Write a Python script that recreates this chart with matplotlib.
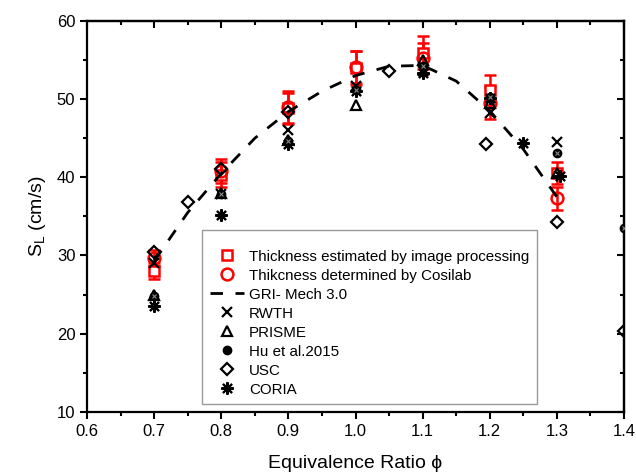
import matplotlib

matplotlib.use("Agg")
import matplotlib.pyplot as plt
from matplotlib.lines import Line2D
from matplotlib.ticker import MultipleLocator

plt.rcParams["font.family"] = ["Liberation Sans", "DejaVu Sans"]
plt.rcParams["mathtext.fontset"] = "custom"
plt.rcParams["mathtext.rm"] = "Liberation Sans"
plt.rcParams["mathtext.it"] = "Liberation Sans:italic"

# measured flame speeds (this work)
phi_exp = [0.7, 0.8, 0.9, 1.0, 1.1, 1.2, 1.3]
sl_image = [28.0, 40.3, 48.8, 54.0, 55.9, 51.2, 40.6]
sl_image_err = [1.0, 1.6, 2.0, 2.2, 2.1, 1.9, 1.4]
sl_cosilab = [29.7, 40.8, 49.0, 54.1, 55.2, 49.5, 37.3]
sl_cosilab_err = [1.0, 1.5, 2.0, 2.1, 2.0, 2.0, 1.5]

# GRI-Mech 3.0 simulation
phi_gri = [0.7, 0.75, 0.8, 0.85, 0.9, 0.95, 1.0, 1.05, 1.1, 1.15, 1.2, 1.25, 1.3]
sl_gri = [29.3, 35.5, 40.5, 45.0, 48.4, 51.0, 53.0, 54.2, 54.3, 52.3, 48.5, 43.6, 37.5]

# literature data
phi_rwth = [0.7, 0.8, 0.9, 1.0, 1.1, 1.2, 1.3]
sl_rwth = [29.0, 37.9, 46.1, 51.7, 53.6, 48.2, 44.5]
phi_prisme = [0.7, 0.8, 0.9, 1.0, 1.1, 1.2, 1.3]
sl_prisme = [24.9, 38.0, 44.8, 49.3, 55.0, 49.5, 40.6]
phi_hu = [0.7, 0.8, 0.9, 1.0, 1.1, 1.2, 1.3, 1.4]
sl_hu = [24.8, 37.8, 44.6, 51.1, 54.2, 50.3, 43.1, 33.5]
phi_usc = [0.7, 0.75, 0.8, 0.9, 1.05, 1.195, 1.3, 1.4]
sl_usc = [30.4, 36.8, 41.1, 48.3, 53.6, 44.3, 34.3, 20.4]
phi_coria = [0.7, 0.8, 0.9, 1.0, 1.1, 1.2, 1.25, 1.305]
sl_coria = [23.6, 35.2, 44.2, 51.0, 53.3, 50.1, 44.4, 40.1]

labels = [
    "Thickness estimated by image processing",
    "Thikcness determined by Cosilab",
    "GRI- Mech 3.0",
    "RWTH",
    "PRISME",
    "Hu et al.2015",
    "USC",
    "CORIA",
]

fig = plt.figure(figsize=(6.36, 4.74), dpi=100)
ax = fig.add_axes([0.137, 0.131, 0.844, 0.825])

red = "#ff0000"
ax.errorbar(phi_exp, sl_image, yerr=sl_image_err, fmt="s", ms=7, mfc="white", mec=red,
            mew=1.8, ecolor=red, elinewidth=1.8, capsize=4, capthick=1.8, color=red, zorder=3)
ax.errorbar(phi_exp, sl_cosilab, yerr=sl_cosilab_err, fmt="o", ms=8.5, mfc="none", mec=red,
            mew=1.8, ecolor=red, elinewidth=1.8, capsize=4, capthick=1.8, color=red, zorder=3)
gri, = ax.plot(phi_gri, sl_gri, color="black", lw=2, dashes=(4.5, 4.5), zorder=4)
rwth, = ax.plot(phi_rwth, sl_rwth, "x", color="black", ms=7, mew=1.6, zorder=5)
prisme, = ax.plot(phi_prisme, sl_prisme, "^", color="black", mfc="none", ms=7, mew=1.6, zorder=5)
hu, = ax.plot(phi_hu, sl_hu, "o", color="black", mfc="black", ms=6, mew=1.0, zorder=5)
ax.plot(phi_hu, sl_hu, "x", color="#888888", ms=3.5, mew=0.8, zorder=6)
usc, = ax.plot(phi_usc, sl_usc, "D", color="black", mfc="none", ms=6, mew=1.6, zorder=5)
coria, = ax.plot(phi_coria, sl_coria, marker=(8, 2, 0), ls="none", color="black", ms=9, mew=1.5,
                 zorder=5)

ax.set_xlim(0.6, 1.4)
ax.set_ylim(10, 60)
ax.xaxis.set_major_locator(MultipleLocator(0.1))
ax.xaxis.set_minor_locator(MultipleLocator(0.05))
ax.yaxis.set_major_locator(MultipleLocator(10))
ax.yaxis.set_minor_locator(MultipleLocator(5))
ax.tick_params(which="both", direction="out", width=1.5, labelsize=12, top=False, right=False)
ax.tick_params(which="major", length=5)
ax.tick_params(which="minor", length=3)
for spine in ax.spines.values():
    spine.set_linewidth(1.6)

top = ax.secondary_xaxis("top")
top.xaxis.set_major_locator(MultipleLocator(0.1))
top.xaxis.set_minor_locator(MultipleLocator(0.05))
top.tick_params(which="both", direction="in", width=1.5, labeltop=False)
top.tick_params(which="major", length=5)
top.tick_params(which="minor", length=3)
top.spines["top"].set_linewidth(1.6)
right = ax.secondary_yaxis("right")
right.yaxis.set_major_locator(MultipleLocator(10))
right.yaxis.set_minor_locator(MultipleLocator(5))
right.tick_params(which="both", direction="in", width=1.5, labelright=False)
right.tick_params(which="major", length=5)
right.tick_params(which="minor", length=3)
right.spines["right"].set_linewidth(1.6)

ax.set_xlabel("Equivalence Ratio ϕ", fontsize=14, labelpad=12)
ax.set_ylabel("S$_\\mathrm{L}$ (cm/s)", fontsize=14, labelpad=6)

handles = [
    Line2D([0], [0], marker="s", ls="none", ms=7, mfc="white", mec=red, mew=1.8),
    Line2D([0], [0], marker="o", ls="none", ms=8.5, mfc="white", mec=red, mew=1.8),
    gri, rwth, prisme, hu, usc, coria,
]
leg = ax.legend(handles, labels, loc="upper left", bbox_to_anchor=(0.214, 0.465), borderaxespad=0,
                fontsize=10.9, title=" ", title_fontsize=6, frameon=True, fancybox=False,
                handlelength=2.3, labelspacing=0.33, handletextpad=0.3, borderpad=0.5)
leg.get_frame().set_edgecolor("#808080")
leg.get_frame().set_linewidth(1.0)

fig.savefig("out.png", dpi=100)
